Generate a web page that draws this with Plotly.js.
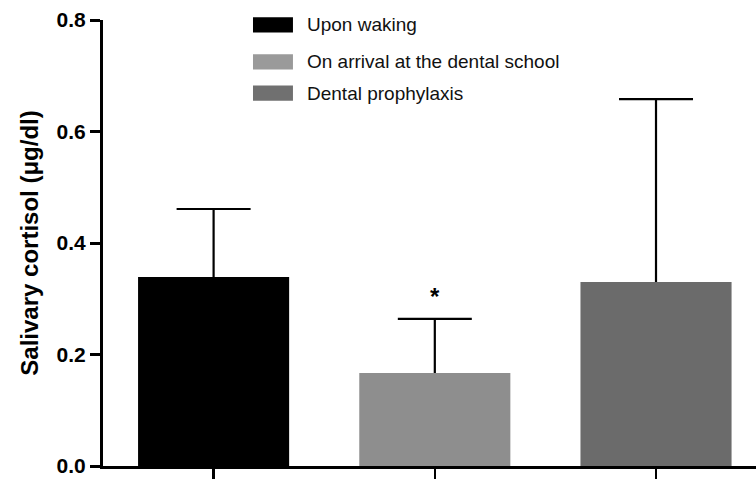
<!DOCTYPE html>
<html>
<head>
<meta charset="utf-8">
<script src="https://cdn.plot.ly/plotly-3.0.1.min.js"></script>
<style>html,body{margin:0;padding:0;background:#fff;}#chart{width:756px;height:480px;}</style>
</head>
<body>
<div id="chart"></div>
<script>
const categories = ["Upon waking", "On arrival at the dental school", "Dental prophylaxis"];
const means = [0.339, 0.167, 0.330];
const sdUpper = [0.122, 0.097, 0.328];
const barColors = ["#000000", "#8e8e8e", "#6b6b6b"];
const legendColors = ["#000000", "#9a9a9a", "#707070"];
const yTicks = [0.0, 0.2, 0.4, 0.6, 0.8];
const significance = ["", "*", ""];

const xIdx = categories.map((c, i) => i);
const FONT = "Arial, 'Liberation Sans', Helvetica, sans-serif";
const BARW = 0.683;

// error-bar carrier (drawn first, lower part hidden by the real bars)
const errTrace = {
  type: "bar",
  x: xIdx,
  y: means,
  width: BARW,
  marker: {color: "rgba(0,0,0,0)", line: {width: 0}},
  error_y: {type: "data", symmetric: false, array: sdUpper, arrayminus: means.map(v => v / 2),
            color: "#000", thickness: 2.2, width: 37},
  showlegend: false,
  hoverinfo: "skip"
};

const barTrace = {
  type: "bar",
  x: xIdx,
  y: means,
  width: BARW,
  marker: {color: barColors, line: {width: 0}},
  showlegend: false,
  hoverinfo: "skip"
};

const legendRowsY = [0.989, 0.906, 0.836];
const shapes = [];
const annotations = [];
categories.forEach((c, i) => {
  shapes.push({type: "rect", xref: "paper", yref: "paper",
    x0: 0.2297, x1: 0.2909, y0: legendRowsY[i] - 0.017, y1: legendRowsY[i] + 0.017,
    fillcolor: legendColors[i], line: {width: 0}});
  annotations.push({xref: "paper", yref: "paper", x: 0.31, y: legendRowsY[i],
    xanchor: "left", yanchor: "middle", showarrow: false, text: c,
    font: {family: FONT, size: 19, color: "#111"}});
  if (significance[i]) {
    annotations.push({xref: "x", yref: "y", x: xIdx[i], y: means[i] + sdUpper[i] + 0.04,
      xanchor: "center", yanchor: "middle", showarrow: false, text: "<b>" + significance[i] + "</b>",
      font: {family: FONT, size: 24, color: "#000"}});
  }
});

const layout = {
  width: 756, height: 480,
  margin: {l: 103, r: 0, t: 20, b: 14},
  paper_bgcolor: "#fff", plot_bgcolor: "#fff",
  barmode: "overlay",
  font: {family: FONT, color: "#000"},
  xaxis: {range: [-0.5, 2.452], tickvals: xIdx, ticktext: xIdx.map(() => ""),
          showgrid: false, zeroline: false, showline: true, linecolor: "#000", linewidth: 3,
          ticks: "outside", ticklen: 10, tickwidth: 2.5, tickcolor: "#000", fixedrange: true},
  yaxis: {range: [0, 0.8], tickvals: yTicks, ticktext: yTicks.map(v => "<b>" + v.toFixed(1) + "</b>"),
          showgrid: false, zeroline: false, showline: true, linecolor: "#000", linewidth: 3,
          ticks: "outside", ticklen: 10, tickwidth: 3, tickcolor: "#000",
          tickfont: {family: FONT, size: 21, color: "#000"},
          title: {text: "<b>Salivary cortisol (μg/dl)</b>", font: {family: FONT, size: 24, color: "#000"}, standoff: 12},
          fixedrange: true},
  shapes: shapes,
  annotations: annotations,
  showlegend: false
};

Plotly.newPlot("chart", [errTrace, barTrace], layout, {displayModeBar: false, staticPlot: true});
</script>
</body>
</html>
